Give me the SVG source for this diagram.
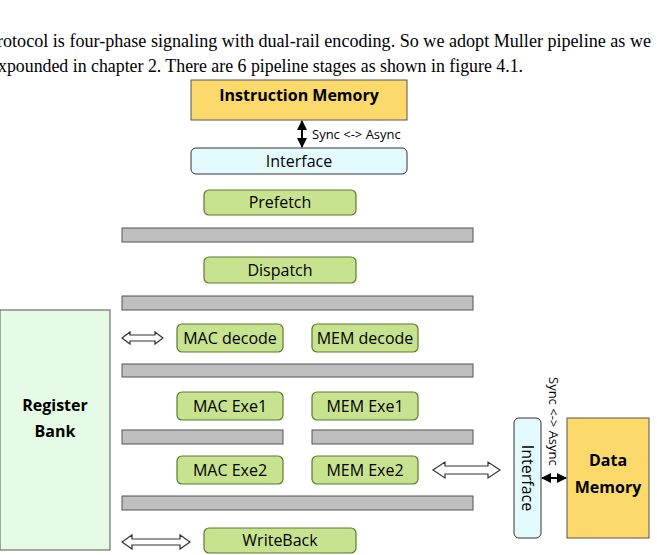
<svg xmlns="http://www.w3.org/2000/svg" width="657" height="555" viewBox="0 0 657 555">
<defs>
<style>
.t{font-family:"Liberation Serif",serif;font-size:19px;fill:#000}
.l{font-family:"Open Sans","Noto Sans",sans-serif;fill:#000;text-anchor:middle}
.g{fill:#c8e38f;stroke:#5a7a2a;stroke-width:1.2}
.bar{fill:#bfbfbf;stroke:#555;stroke-width:1}
.ho{fill:#fff;stroke:#333;stroke-width:1.2}
</style>
<marker id="a" viewBox="0 0 10 10" refX="9" refY="5" markerWidth="5" markerHeight="5" orient="auto-start-reverse"><path d="M0,0L10,5L0,10z" fill="#000"/></marker>
</defs>
<rect width="657" height="555" fill="#fff"/>
<text class="t" x="-3" y="47" textLength="654" lengthAdjust="spacingAndGlyphs">rotocol is four-phase signaling with dual-rail encoding. So we adopt Muller pipeline as we</text>
<text class="t" x="-2" y="72" textLength="525" lengthAdjust="spacingAndGlyphs">xpounded in chapter 2. There are 6 pipeline stages as shown in figure 4.1.</text>
<g id="imem"><rect x="191" y="80" width="216" height="40" fill="#fbd96b" stroke="#555"/><text class="l" x="299" y="101" font-size="16" font-weight="bold">Instruction Memory</text></g>
<g id="iface"><rect x="191" y="148" width="216" height="26" rx="5" fill="#e3fbfd" stroke="#333"/><text class="l" x="299" y="167" font-size="16">Interface</text></g>
<g id="prefetch"><rect class="g" x="204" y="190" width="152" height="25" rx="5"/><text class="l" x="280" y="208" font-size="16">Prefetch</text></g>
<g id="dispatch"><rect class="g" x="204" y="257" width="152" height="26" rx="5"/><text class="l" x="280" y="276" font-size="16">Dispatch</text></g>
<g id="macdec"><rect class="g" x="177" y="324" width="106" height="28" rx="5"/><text class="l" x="230" y="344" font-size="16">MAC decode</text></g>
<g id="memdec"><rect class="g" x="312" y="324" width="106" height="28" rx="5"/><text class="l" x="365" y="344" font-size="16">MEM decode</text></g>
<g id="macexe1"><rect class="g" x="177" y="392" width="106" height="28" rx="5"/><text class="l" x="230" y="412" font-size="16">MAC Exe1</text></g>
<g id="memexe1"><rect class="g" x="312" y="392" width="106" height="28" rx="5"/><text class="l" x="365" y="412" font-size="16">MEM Exe1</text></g>
<g id="macexe2"><rect class="g" x="177" y="456" width="106" height="28" rx="5"/><text class="l" x="230" y="476" font-size="16">MAC Exe2</text></g>
<g id="memexe2"><rect class="g" x="312" y="456" width="106" height="28" rx="5"/><text class="l" x="365" y="476" font-size="16">MEM Exe2</text></g>
<g id="writeback"><rect class="g" x="204" y="528" width="152" height="25" rx="5"/><text class="l" x="280" y="546" font-size="16">WriteBack</text></g>
<g id="regbank"><rect x="0" y="310" width="110" height="240" fill="#e6fbe6" stroke="#555"/><text class="l" x="55" y="411" font-size="16" font-weight="bold">Register</text><text class="l" x="55" y="437" font-size="16" font-weight="bold">Bank</text></g>
<g id="diface"><rect x="514" y="418" width="27" height="120" rx="5" fill="#e3fbfd" stroke="#333"/><text class="l" transform="translate(522,478) rotate(90)" font-size="16">Interface</text></g>
<g id="dmem"><rect x="567" y="418" width="82" height="120" fill="#fbd96b" stroke="#555"/><text class="l" x="608" y="466" font-size="16" font-weight="bold">Data</text><text class="l" x="608" y="493" font-size="16" font-weight="bold">Memory</text></g>
<g id="bars">
<rect class="bar" x="122" y="228" width="351" height="14"/>
<rect class="bar" x="122" y="296" width="351" height="14"/>
<rect class="bar" x="122" y="364" width="351" height="13"/>
<rect class="bar" x="122" y="430" width="161" height="14"/>
<rect class="bar" x="312" y="430" width="161" height="14"/>
<rect class="bar" x="122" y="496" width="351" height="14"/>
</g>
<g id="connectors">
<line x1="302" y1="121" x2="302" y2="147" stroke="#000" stroke-width="2" marker-start="url(#a)" marker-end="url(#a)"/>
<text font-family="Open Sans,sans-serif" font-size="13" x="312" y="139">Sync &lt;-&gt; Async</text>
<line x1="542" y1="478" x2="566" y2="478" stroke="#000" stroke-width="2" marker-start="url(#a)" marker-end="url(#a)"/>
<text font-family="Open Sans,sans-serif" font-size="13" transform="translate(549,377) rotate(90)">Sync &lt;-&gt; Async</text>
<path class="ho" d="M122,338 l8,-6 v3 h25 v-3 l8,6 l-8,6 v-3 h-25 v3z"/>
<path class="ho" d="M433,470 l12,-8 v4 h43 v-4 l12,8 l-12,8 v-4 h-43 v4z"/>
<path class="ho" d="M122,542 l10,-7 v4 h48 v-4 l10,7 l-10,7 v-4 h-48 v4z"/>
</g>
</svg>
